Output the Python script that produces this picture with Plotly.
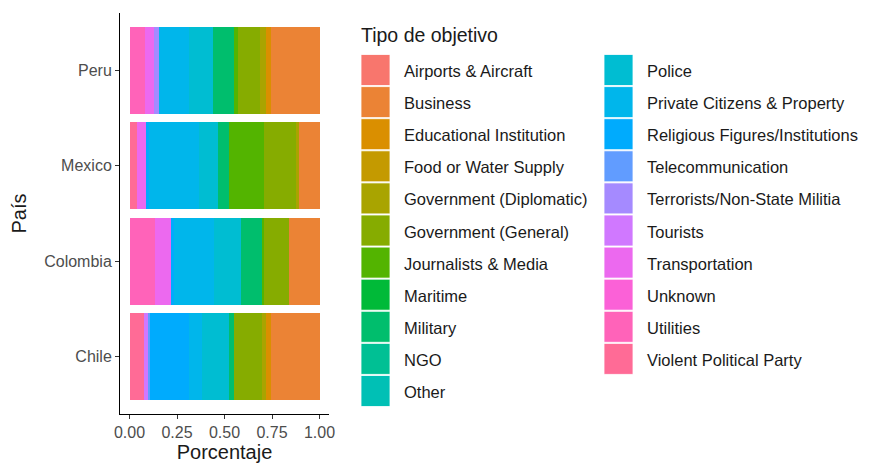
import math
import plotly.graph_objects as go

# ggplot-style stacked proportion bars: target type share by country

countries = ["Chile", "Colombia", "Mexico", "Peru"]

target_types = [
    "Airports & Aircraft", "Business", "Educational Institution",
    "Food or Water Supply", "Government (Diplomatic)", "Government (General)",
    "Journalists & Media", "Maritime", "Military", "NGO", "Other", "Police",
    "Private Citizens & Property", "Religious Figures/Institutions",
    "Telecommunication", "Terrorists/Non-State Militia", "Tourists",
    "Transportation", "Unknown", "Utilities", "Violent Political Party",
]

# proportions per country, in target_types order
chile = [0, 0.254, 0.028, 0, 0.021, 0.148, 0, 0, 0.023, 0, 0, 0.143,
         0.070, 0.205, 0.011, 0, 0.022, 0, 0, 0, 0.075]
colombia = [0, 0.163, 0, 0, 0, 0.127, 0.012, 0, 0.111, 0, 0, 0.143,
            0.209, 0.015, 0, 0, 0, 0.085, 0, 0.135, 0]
mexico = [0, 0.110, 0, 0, 0.010, 0.174, 0.180, 0, 0.061, 0, 0, 0.100,
          0.265, 0.010, 0, 0, 0, 0.050, 0, 0, 0.040]
peru = [0, 0.254, 0.028, 0, 0.029, 0.119, 0.021, 0, 0.109, 0, 0, 0.127,
        0.160, 0, 0, 0.023, 0, 0.050, 0, 0.080, 0]

x_ticks = [0, 0.25, 0.5, 0.75, 1.0]
x_tick_labels = ["0.00", "0.25", "0.50", "0.75", "1.00"]

FONT = "Liberation Sans, Arial, sans-serif"


def hcl_hex(h, c=100, l=65):
    """Polar LUV -> sRGB hex, like R's hcl()."""
    xn, yn, zn = 95.047, 100.0, 108.883
    un = 4 * xn / (xn + 15 * yn + 3 * zn)
    vn = 9 * yn / (xn + 15 * yn + 3 * zn)
    u = c * math.cos(math.radians(h))
    v = c * math.sin(math.radians(h))
    y = yn * ((l + 16) / 116) ** 3
    up = u / (13 * l) + un
    vp = v / (13 * l) + vn
    x = y * 9 * up / (4 * vp)
    z = y * (12 - 3 * up - 20 * vp) / (4 * vp)
    x, y, z = x / 100, y / 100, z / 100
    rgb = [
        3.2404542 * x - 1.5371385 * y - 0.4985314 * z,
        -0.9692660 * x + 1.8760108 * y + 0.0415560 * z,
        0.0556434 * x - 0.2040259 * y + 1.0572252 * z,
    ]
    out = []
    for ch in rgb:
        ch = 12.92 * ch if ch <= 0.0031308 else 1.055 * ch ** (1 / 2.4) - 0.055
        out.append(int(round(min(max(ch, 0), 1) * 255)))
    return "#%02X%02X%02X" % tuple(out)


n = len(target_types)
palette = [hcl_hex(15 + i * 360 / n) for i in range(n)]

fig = go.Figure()
# ggplot stacks the last level at 0, so add traces in reverse order
for i in reversed(range(n)):
    fig.add_trace(go.Bar(
        y=countries,
        x=[chile[i], colombia[i], mexico[i], peru[i]],
        orientation="h",
        name=target_types[i],
        marker=dict(color=palette[i], line=dict(width=0)),
        showlegend=False,
    ))

# page body has an 8px margin, so the figure is drawn 8px in
OFF = 8
W, H = 871 - OFF, 464 - OFF
# plot area in screen pixels
L, R, T, B = 120, 329, 13, 414


def px(xp):
    return (xp - L) / (R - L)


def py(yp):
    return (B - yp) / (B - T)


shapes = []
annotations = [dict(
    text="Tipo de objetivo", x=px(359), y=py(35), xref="paper", yref="paper",
    xanchor="left", yanchor="middle", showarrow=False,
    font=dict(size=19.5, color="#1A1A1A", family=FONT),
)]
col_x = [(361, 402), (604, 645)]
for i, name in enumerate(target_types):
    col = 0 if i < 11 else 1
    row = i if i < 11 else i - 11
    cy = 70 + 32.1 * row
    kx, tx = col_x[col]
    shapes.append(dict(
        type="rect", xref="paper", yref="paper",
        x0=px(kx), x1=px(kx + 29), y0=py(cy - 15.5), y1=py(cy + 15.5),
        fillcolor=palette[i], line=dict(width=0.8, color="white"),
    ))
    annotations.append(dict(
        text=name, x=px(tx), y=py(cy + 1), xref="paper", yref="paper",
        xanchor="left", yanchor="middle", showarrow=False,
        font=dict(size=16.5, color="#1A1A1A", family=FONT),
    ))

fig.update_layout(
    width=W, height=H,
    barmode="stack", bargap=0.09,
    paper_bgcolor="white", plot_bgcolor="white",
    margin=dict(l=L - OFF, r=871 - R, t=T - OFF, b=H - (B - OFF)),
    font=dict(family=FONT, color="#4D4D4D"),
    shapes=shapes, annotations=annotations,
    xaxis=dict(
        range=[-0.05, 1.05], tickvals=x_ticks, ticktext=x_tick_labels,
        showgrid=False, zeroline=False, showline=True, linecolor="#000000",
        linewidth=1, ticks="outside", ticklen=4, tickcolor="#333333",
        tickfont=dict(size=16, color="#4D4D4D"),
        title=dict(text="Porcentaje", standoff=2,
                   font=dict(size=20, color="#1A1A1A")),
    ),
    yaxis=dict(
        range=[-0.6, 3.6], showgrid=False, zeroline=False, showline=True,
        linecolor="#000000", linewidth=1, ticks="outside", ticklen=4,
        tickcolor="#333333", tickfont=dict(size=16, color="#4D4D4D"),
        title=dict(text="País", standoff=13,
                   font=dict(size=20, color="#1A1A1A")),
    ),
)

fig.write_html("out.html")
